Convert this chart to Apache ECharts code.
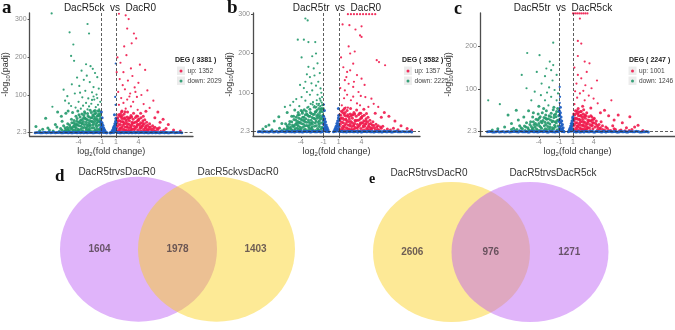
<!DOCTYPE html>
<html><head><meta charset="utf-8">
<script src="https://cdn.jsdelivr.net/npm/echarts@6/dist/echarts.min.js"></script>
<style>html,body{margin:0;padding:0;background:#fff}#c{width:675px;height:330px}</style>
</head><body><div id="c"></div>
<script>
// ---------------- DATA ----------------
const panelLetters = ['a', 'b', 'c', 'd', 'e'];
const comparisons = ['DacR5ck  vs  DacR0', 'DacR5tr  vs  DacR0', 'DacR5tr  vs  DacR5ck'];
const degTotals = [3381, 3582, 2247];
const upCounts = [1352, 1357, 1001];
const downCounts = [2029, 2225, 1246];
const xTicks = [-4, -1, 1, 4];
const yTicksAB = [2.3, 100, 200, 300];
const yTicksC = [2.3, 100, 200];
const fcCut = [-1, 1];
const padjCut = 2.3;

// panel a : DacR5ck vs DacR0  [log2FC, -log10 padj]
const aDown = [[-7.6,315],[-2.8,287],[-5.2,265],[-2.6,262],[-4.7,233],[-5.0,203],[-4.6,190],[-3.0,181],[-2.4,176],[-2.1,169],[-3.6,164],[-1.8,158],[-2.9,151],[-4.2,146],[-3.3,140],[-1.5,147],[-2.5,134],[-4.9,128],[-3.9,124],[-2.0,121],[-1.3,117],[-6.0,114],[-3.1,111],[-2.2,107],[-4.5,104],[-1.6,101],[-5.5,97],[-3.5,94],[-2.7,91],[-1.9,88],[-7.5,69],[-8.4,39],[-9.7,17],[-7.1,22],[-6.2,31],[-5.7,52],[-5.3,78],[-6.4,12],[-8.8,10],[-7.9,8],[-6.8,55],[-5.8,85],[-4.0,82],[-3.0,79],[-2.3,77],[-1.4,74],[-5.0,71],[-4.4,67],[-3.7,64],[-2.8,62],[-1.8,59],[-1.2,57],[-6.3,44],[-5.4,58],[-4.8,54],[-3.4,72],[-2.6,70],[-1.7,68],[-4.1,58],[-3.2,56],[-2.2,87],[-1.1,82],[-9.2,6],[-8.1,13],[-7.4,5],[-6.9,16],[-3.8,106],[-2.0,96],[-1.5,92],
[-5.9,4],[-5.7,9],[-5.5,15],[-5.3,6],[-5.2,21],[-5.0,11],[-4.9,27],[-4.8,4],[-4.7,17],[-4.6,33],[-4.5,8],[-4.4,24],[-4.3,13],[-4.2,38],[-4.1,5],[-4.0,29],[-3.9,19],[-3.8,42],[-3.7,10],[-3.6,34],[-3.5,24],[-3.4,6],[-3.3,46],[-3.2,15],[-3.1,38],[-3.0,28],[-2.9,9],[-2.8,51],[-2.7,20],[-2.6,42],[-2.5,33],[-2.4,5],[-2.3,54],[-2.2,13],[-2.1,47],[-2.0,25],[-1.9,36],[-1.8,8],[-1.7,52],[-1.6,18],[-1.5,44],[-1.4,30],[-1.3,50],[-1.2,11],[-1.1,38],[-1.05,22],[-6.2,7],[-6.6,4],[-5.6,3],[-5.1,16],[-4.95,36],[-4.35,44],[-4.05,10],[-3.95,48],[-3.45,14],[-3.15,52],[-2.95,36],[-2.65,27],[-2.45,60],[-2.15,30],[-1.95,14],[-1.75,40],[-1.55,26],[-1.35,7],[-1.25,62],[-1.15,45],[-3.85,27],[-4.55,20],[-5.35,11],[-2.85,16],[-2.35,40],[-1.85,50],[-1.45,58],[-3.55,50],[-4.15,22],[-3.05,4],[-2.05,4],[-1.65,5],[-4.75,8],[-5.45,24],[-5.8,14],[-6.0,19],[-4.25,31],[-3.65,18],[-2.75,45],[-2.55,12],[-1.95,57],[-1.6,34],[-1.1,28],[-3.25,22],
[-5.75,6],[-5.45,8],[-5.15,4],[-4.85,14],[-4.65,26],[-4.45,16],[-4.2,20],[-3.95,7],[-3.75,33],[-3.55,4],[-3.35,30],[-3.2,40],[-2.95,22],[-2.8,34],[-2.6,8],[-2.45,22],[-2.3,30],[-2.2,40],[-2.0,44],[-1.85,30],[-1.7,22],[-1.55,12],[-1.4,46],[-1.3,20],[-1.2,32],[-1.1,9],[-1.05,50],[-3.0,12],[-3.6,26],[-4.3,6],[-2.5,18],[-1.75,3],[-2.7,6],[-3.4,38],[-2.1,20],[-1.5,36]];
const aUp = [[1.4,314],[2.3,310],[2.7,300],[2.5,275],[3.4,262],[3.7,249],[1.2,199],[2.4,205],[4.9,166],[3.0,170],[1.6,185],[2.0,160],[3.2,150],[1.5,142],[2.6,138],[4.0,132],[1.9,126],[3.5,120],[2.2,115],[5.2,112],[1.3,108],[2.9,104],[4.4,100],[3.8,95],[1.7,92],[2.5,88],[6.0,85],[3.3,82],[2.0,79],[4.7,76],[1.4,74],[3.0,70],[5.5,66],[2.3,64],[3.9,61],[1.8,58],[6.6,55],[4.3,52],[7.3,36],[8.0,22],[8.7,8],[9.6,5],[7.7,12],[6.9,28],[6.2,40],[5.0,57],[2.8,96],[3.6,108],[1.1,160],[2.1,228],[3.1,236],[4.2,180],
[1.1,5],[1.2,18],[1.3,33],[1.4,9],[1.5,45],[1.6,22],[1.7,12],[1.8,38],[1.9,4],[2.0,28],[2.1,50],[2.2,16],[2.3,35],[2.4,7],[2.5,42],[2.6,24],[2.7,13],[2.8,32],[2.9,5],[3.0,46],[3.1,20],[3.2,10],[3.3,36],[3.4,27],[3.5,4],[3.6,41],[3.7,15],[3.8,30],[3.9,8],[4.0,22],[4.1,37],[4.2,12],[4.3,27],[4.4,5],[4.5,18],[4.6,32],[4.7,9],[4.8,24],[4.9,14],[5.0,4],[5.2,20],[5.4,10],[5.6,16],[5.8,6],[6.0,12],[6.3,5],[6.6,9],[7.0,4],[1.15,26],[1.35,48],[1.55,14],[1.75,55],[1.95,20],[2.15,8],[2.35,25],[2.55,55],[2.75,40],[2.95,17],[3.15,28],[3.35,52],[3.55,12],[3.75,45],[3.95,35],[4.15,4],[4.35,40],[4.55,26],[4.85,35],[5.1,28],[5.3,6],[5.5,24],[5.9,19],[6.2,15],[1.25,40],[1.45,3],[1.65,30],[1.85,46],[2.05,38],[2.45,15],[2.65,4],[3.05,8],[3.45,18],[3.85,22],[4.25,16],[4.65,44],[5.05,12],[6.8,14],[7.4,7],
[1.05,14],[1.2,30],[1.3,4],[1.4,22],[1.5,32],[1.6,6],[1.7,42],[1.8,16],[1.9,30],[2.0,10],[2.1,24],[2.2,40],[2.3,5],[2.4,30],[2.5,18],[2.6,36],[2.7,7],[2.8,22],[2.9,40],[3.0,14],[3.2,25],[3.4,10],[3.6,28],[3.8,18],[4.0,33],[4.2,22],[4.4,14],[4.6,20],[4.8,6],[5.0,18],[5.2,8],[5.4,16],[5.7,10],[6.1,6],[6.5,12],[1.1,40],[1.6,50],[2.2,56],[3.1,42],[3.9,44]];
const aNs = [[-9.8,0.8],[-9.3,1.5],[-8.9,0.5],[-8.5,1.8],[-8.1,1.0],[-7.7,0.4],[-7.3,1.6],[-6.9,0.9],[-6.5,2.0],[-6.1,0.6],[-5.8,1.3],[-5.4,0.3],[-5.1,1.9],[-4.8,0.8],[-4.5,1.4],[-4.2,0.5],[-3.9,2.1],[-3.6,1.0],[-3.3,0.4],[-3.0,1.7],[-2.7,0.9],[-2.4,1.5],[-2.1,0.3],[-1.8,1.2],[-1.5,2.0],[-1.2,0.7],[1.2,1.1],[1.5,0.4],[1.8,1.9],[2.1,0.8],[2.4,1.4],[2.7,0.3],[3.0,2.0],[3.3,1.0],[3.6,0.5],[3.9,1.6],[4.2,0.9],[4.5,2.1],[4.8,0.6],[5.1,1.3],[5.4,0.4],[5.7,1.8],[6.0,1.0],[6.3,0.5],[6.6,1.5],[6.9,0.8],[7.2,1.9],[7.5,0.4],[7.8,1.2],[8.1,0.7],[8.5,1.6],[8.9,0.5],[9.3,1.1],[9.8,0.6],
[-9.55,1.2],[-9.1,0.3],[-8.7,1.0],[-8.3,0.4],[-7.9,1.7],[-7.5,1.0],[-7.1,0.3],[-6.7,1.4],[-6.3,0.8],[-5.95,2.0],[-5.6,0.9],[-5.25,1.1],[-4.95,0.4],[-4.65,1.9],[-4.35,1.0],[-4.05,1.5],[-3.75,0.6],[-3.45,1.8],[-3.15,1.2],[-2.85,0.4],[-2.55,2.0],[-2.25,1.0],[-1.95,0.5],[-1.65,1.6],[-1.35,1.0],[-1.1,2.0],[1.1,1.8],[1.35,1.2],[1.65,0.6],[1.95,1.5],[2.25,2.0],[2.55,1.1],[2.85,1.5],[3.15,0.5],[3.45,1.8],[3.75,1.2],[4.05,0.3],[4.35,1.5],[4.65,1.2],[4.95,2.0],[5.25,0.8],[5.55,1.5],[5.85,0.5],[6.15,1.9],[6.45,1.0],[6.75,0.3],[7.05,1.3],[7.35,1.0],[7.65,2.0],[7.95,0.5],[8.3,1.0],[8.7,1.9],[9.1,0.9],[9.55,1.4],
[-1.0,30],[-0.95,24],[-0.9,18],[-0.85,26],[-0.8,12],[-0.75,20],[-0.7,8],[-0.65,14],[-0.6,4],[-0.55,9],[-0.5,2],[-0.45,5],[-0.4,1],[-0.3,0.5],[-0.2,0.3],[-1.0,15],[-0.95,6],[-0.9,10],[-0.8,3],[-0.7,1],[0.4,1],[0.45,4],[0.5,2],[0.55,8],[0.6,5],[0.65,13],[0.7,9],[0.75,18],[0.8,14],[0.85,24],[0.9,20],[0.95,31],[1.0,26],[0.98,38],[0.9,6],[0.8,3],[0.7,1],[0.2,0.3],[0.3,0.5],[1.0,12],[0.9,95],[0.95,74],[-0.95,55],[0.8,48],[-0.85,40],[0.97,183]];

// panel b : DacR5tr vs DacR0
const bDown = [[-3.4,289],[-3.1,284],[-3.6,235],[-4.4,235],[-2.1,229],[-3.0,229],[-3.9,190],[-2.5,193],[-2.0,200],[-2.3,162],[-3.0,166],[-3.2,147],[-2.2,144],[-3.4,128],[-2.6,124],[-1.7,128],[-1.4,111],[-2.5,106],[-3.2,102],[-3.9,89],[-5.0,77],[-6.1,64],[-1.2,89],[-1.9,81],[-6.9,39],[-8.2,18],[-1.8,175],[-2.8,140],[-1.5,150],[-4.1,120],[-2.0,118],[-3.6,112],[-1.3,100],[-2.8,95],[-4.6,84],[-3.4,80],[-2.4,76],[-1.6,72],[-5.4,68],[-4.2,66],[-3.0,64],[-2.1,62],[-1.3,60],[-5.8,50],[-4.8,56],[-3.8,52],[-7.5,28],[-9.0,8],[-8.6,14],[-7.8,6],[-6.5,22],[-6.8,10],[-1.1,70],[-1.5,85],[-2.7,72],[-1.8,95],[-4.4,43],[-5.2,40],
[-5.9,5],[-5.7,12],[-5.5,20],[-5.3,7],[-5.2,26],[-5.0,14],[-4.9,32],[-4.8,5],[-4.7,20],[-4.6,38],[-4.5,10],[-4.4,27],[-4.3,15],[-4.2,44],[-4.1,6],[-4.0,33],[-3.9,22],[-3.8,48],[-3.7,12],[-3.6,38],[-3.5,27],[-3.4,7],[-3.3,53],[-3.2,17],[-3.1,43],[-3.0,31],[-2.9,10],[-2.8,58],[-2.7,23],[-2.6,47],[-2.5,37],[-2.4,6],[-2.3,63],[-2.2,15],[-2.1,52],[-2.0,28],[-1.9,41],[-1.8,9],[-1.7,68],[-1.6,20],[-1.5,50],[-1.4,34],[-1.3,58],[-1.2,12],[-1.1,43],[-1.05,25],[-6.2,8],[-6.5,4],[-5.6,3],[-5.1,18],[-4.95,40],[-4.35,50],[-4.05,12],[-3.95,55],[-3.45,16],[-3.15,62],[-2.95,40],[-2.65,30],[-2.45,70],[-2.15,34],[-1.95,16],[-1.75,45],[-1.55,29],[-1.35,8],[-1.25,75],[-1.15,52],[-3.85,30],[-4.55,23],[-5.35,13],[-2.85,18],[-2.35,45],[-1.85,56],[-1.45,66],[-3.55,57],[-4.15,25],[-3.05,4],[-2.05,4],[-1.65,5],[-4.75,9],[-5.45,27],[-5.8,16],[-6.0,21],[-4.25,35],[-3.65,20],[-2.75,50],[-2.55,13],[-1.95,64],[-1.6,38],[-1.1,32],[-3.25,25],[-1.4,80],[-1.9,72],[-2.2,66],
[-5.75,8],[-5.45,10],[-5.15,5],[-4.85,16],[-4.65,30],[-4.45,18],[-4.2,23],[-3.95,8],[-3.75,38],[-3.55,5],[-3.35,34],[-3.2,46],[-2.95,25],[-2.8,40],[-2.6,9],[-2.45,25],[-2.3,35],[-2.2,46],[-2.0,52],[-1.85,35],[-1.7,25],[-1.55,14],[-1.4,54],[-1.3,23],[-1.2,38],[-1.1,10],[-1.05,60],[-3.0,14],[-3.6,30],[-4.3,7],[-2.5,20],[-1.75,3],[-2.7,7],[-3.4,44],[-2.1,23],[-1.5,42],[-1.2,68],[-1.6,60]];
const bUp = [[2.2,300],[2.6,300],[3.0,300],[3.4,300],[3.8,300],[4.2,300],[4.6,300],[5.0,300],[5.4,300],[5.8,300],
[1.5,274],[2.4,272],[3.2,261],[4.0,269],[3.8,246],[4.0,242],[2.3,218],[2.5,200],[2.9,174],[2.5,157],[2.1,153],[3.4,145],[1.8,132],[4.0,136],[6.0,183],[7.1,170],[6.3,178],[2.3,123],[2.9,115],[1.8,106],[3.6,102],[4.5,89],[2.6,81],[3.4,73],[1.4,68],[4.9,64],[6.2,64],[1.3,190],[3.1,205],[1.6,165],[2.0,140],[3.0,128],[4.4,120],[1.2,112],[2.1,95],[3.9,92],[5.3,85],[1.7,86],[2.9,90],[5.6,72],[3.8,68],[7.0,50],[7.6,40],[8.4,28],[9.2,16],[10.0,9],[10.6,5],[8.8,6],[6.6,38],[5.8,48],[4.3,58],[1.9,62],
[1.1,6],[1.2,20],[1.3,36],[1.4,10],[1.5,50],[1.6,24],[1.7,13],[1.8,42],[1.9,4],[2.0,31],[2.1,55],[2.2,18],[2.3,39],[2.4,8],[2.5,46],[2.6,27],[2.7,14],[2.8,35],[2.9,5],[3.0,50],[3.1,22],[3.2,11],[3.3,40],[3.4,30],[3.5,4],[3.6,44],[3.7,16],[3.8,33],[3.9,9],[4.0,24],[4.1,40],[4.2,13],[4.3,29],[4.4,5],[4.5,20],[4.6,34],[4.7,10],[4.8,26],[4.9,15],[5.0,4],[5.2,22],[5.4,11],[5.6,17],[5.8,6],[6.0,13],[6.3,5],[6.6,10],[7.0,4],[1.15,28],[1.35,53],[1.55,15],[1.75,60],[1.95,22],[2.15,9],[2.35,27],[2.55,60],[2.75,44],[2.95,18],[3.15,30],[3.35,56],[3.55,13],[3.75,48],[3.95,37],[4.15,4],[4.35,43],[4.55,28],[4.85,38],[5.1,30],[5.3,7],[5.5,26],[5.9,20],[6.2,16],[1.25,43],[1.45,3],[1.65,32],[1.85,50],[2.05,41],[2.45,16],[2.65,4],[3.05,8],[3.45,19],[3.85,23],[4.25,17],[4.65,47],[5.05,13],[6.8,15],[7.4,8],[7.8,5],[8.2,10],
[1.05,15],[1.2,33],[1.3,4],[1.4,25],[1.5,36],[1.6,7],[1.7,46],[1.8,18],[1.9,33],[2.0,11],[2.1,27],[2.2,44],[2.3,5],[2.4,33],[2.5,20],[2.6,40],[2.7,7],[2.8,24],[2.9,44],[3.0,15],[3.2,28],[3.4,11],[3.6,30],[3.8,20],[4.0,36],[4.2,24],[4.4,15],[4.6,22],[4.8,7],[5.0,20],[5.2,9],[5.4,18],[5.7,11],[6.1,7],[6.5,13],[1.1,44],[1.6,56],[2.2,62],[3.1,46],[3.9,48]];
const bNs = [[-9.6,1.0],[-9.2,0.5],[-8.8,1.7],[-8.4,0.8],[-8.0,1.3],[-7.6,0.4],[-7.2,1.9],[-6.8,0.7],[-6.4,1.5],[-6.0,0.3],[-5.7,1.8],[-5.3,0.9],[-5.0,1.4],[-4.7,0.5],[-4.4,2.0],[-4.1,1.1],[-3.8,0.4],[-3.5,1.6],[-3.2,0.8],[-2.9,2.1],[-2.6,0.5],[-2.3,1.3],[-2.0,0.7],[-1.7,1.9],[-1.4,0.4],[-1.1,1.5],[1.1,0.6],[1.4,1.8],[1.7,0.9],[2.0,0.4],[2.3,1.5],[2.6,2.0],[2.9,0.7],[3.2,1.2],[3.5,0.4],[3.8,1.9],[4.1,0.8],[4.4,1.4],[4.7,0.5],[5.0,2.0],[5.3,1.0],[5.6,0.4],[5.9,1.6],[6.2,0.9],[6.5,1.3],[6.8,0.5],[7.1,1.8],[7.4,0.8],[7.7,1.2],[8.0,0.4],[8.4,1.5],[8.8,0.7],[9.2,1.1],[9.7,0.5],[10.2,0.9],[10.6,0.4],
[-9.4,1.3],[-9.0,0.3],[-8.6,1.1],[-8.2,0.4],[-7.8,1.8],[-7.4,1.0],[-7.0,0.3],[-6.6,1.3],[-6.2,0.8],[-5.85,2.0],[-5.5,0.9],[-5.15,1.1],[-4.85,0.4],[-4.55,1.9],[-4.25,1.0],[-3.95,1.5],[-3.65,0.6],[-3.35,1.8],[-3.05,1.2],[-2.75,0.4],[-2.45,2.0],[-2.15,1.0],[-1.85,0.5],[-1.55,1.6],[-1.25,1.0],[1.25,1.2],[1.55,0.5],[1.85,1.5],[2.15,2.0],[2.45,0.9],[2.75,1.4],[3.05,0.5],[3.35,1.8],[3.65,1.2],[3.95,0.3],[4.25,1.5],[4.55,1.2],[4.85,2.0],[5.15,0.8],[5.45,1.5],[5.75,0.5],[6.05,1.9],[6.35,1.0],[6.65,0.3],[6.95,1.3],[7.25,1.0],[7.55,2.0],[7.85,0.5],[8.2,1.0],[8.6,1.9],[9.0,0.9],[9.45,1.4],[9.95,0.6],[10.4,1.2],
[-1.0,40],[-0.95,30],[-0.9,22],[-0.85,34],[-0.8,15],[-0.75,26],[-0.7,10],[-0.65,18],[-0.6,5],[-0.55,12],[-0.5,3],[-0.45,7],[-0.4,1.5],[-0.3,0.6],[-1.0,20],[-0.95,10],[-0.9,5],[-0.8,4],[-0.7,1.5],[0.3,0.6],[0.4,1.5],[0.45,5],[0.5,3],[0.55,10],[0.6,6],[0.65,15],[0.7,10],[0.75,22],[0.8,16],[0.85,28],[0.9,22],[0.95,36],[1.0,30],[0.98,42],[0.9,8],[0.8,4],[0.7,2],[1.0,14],[-0.9,55],[0.95,60],[-0.95,70]];

// panel c : DacR5tr vs DacR5ck
const cDown = [[-1.9,208],[-5.7,184],[-3.9,179],[-2.4,164],[-1.9,156],[-2.9,148],[-2.2,144],[-6.5,133],[-3.1,130],[-1.4,133],[-5.8,102],[-3.6,113],[-2.5,104],[-4.6,94],[-11.4,74],[-9.7,65],[-5.1,74],[-3.1,74],[-2.2,82],[-1.4,74],[-7.3,51],[-8.5,40],[-2.8,92],[-1.7,98],[-4.0,60],[-3.3,55],[-2.6,62],[-1.8,58],[-1.2,90],[-5.5,50],[-4.8,45],[-6.2,35],[-7.0,28],[-8.0,20],[-9.0,12],[-10.0,8],[-10.8,5],[-6.8,15],[-7.7,9],[-3.7,86],[-2.0,120],[-4.3,140],
[-6.0,4],[-5.6,10],[-5.3,18],[-5.0,6],[-4.8,24],[-4.6,12],[-4.4,30],[-4.2,5],[-4.0,20],[-3.8,36],[-3.6,9],[-3.4,27],[-3.2,15],[-3.0,40],[-2.8,6],[-2.6,31],[-2.4,19],[-2.2,44],[-2.0,10],[-1.8,34],[-1.6,24],[-1.4,48],[-1.2,14],[-1.1,38],[-5.8,22],[-5.4,3],[-5.1,13],[-4.9,35],[-4.5,20],[-4.1,42],[-3.9,14],[-3.5,45],[-3.3,4],[-3.1,23],[-2.9,50],[-2.7,13],[-2.5,38],[-2.3,28],[-2.1,5],[-1.9,52],[-1.7,16],[-1.5,36],[-1.3,27],[-1.05,7],[-6.4,8],[-6.8,3],[-7.2,6],[-4.7,4],[-3.7,25],[-2.45,8],[-1.95,26],[-1.55,42],[-1.25,55],[-3.0,32],[-4.3,16],
[-5.9,12],[-5.5,6],[-5.2,24],[-4.9,9],[-4.7,18],[-4.35,8],[-4.15,28],[-3.95,32],[-3.75,12],[-3.55,22],[-3.25,34],[-3.05,8],[-2.85,30],[-2.65,22],[-2.35,12],[-2.25,36],[-2.05,24],[-1.85,8],[-1.75,40],[-1.6,12],[-1.45,22],[-1.35,5],[-1.15,28],[-1.08,48],[-6.1,14],[-6.6,10],[-7.5,4],[-8.0,6],[-2.95,18],[-3.85,4]];
const cUp = [[1.0,276],[1.3,276],[1.6,276],[1.9,276],[2.2,276],[2.5,276],[2.8,276],[3.1,276],
[2.0,264],[1.7,212],[2.2,206],[1.7,177],[2.7,164],[3.4,160],[1.7,133],[2.2,125],[1.5,113],[2.8,109],[3.7,102],[2.0,90],[2.7,74],[4.6,67],[6.6,74],[5.6,51],[7.6,40],[9.3,36],[10.5,16],[10.0,12],[1.2,150],[3.0,140],[1.3,95],[3.3,85],[1.6,80],[4.0,78],[2.4,60],[3.6,56],[1.2,65],[5.0,45],[6.2,38],[7.0,28],[8.2,22],[8.8,10],[9.6,6],[11.2,4],[6.8,15],[4.5,120],[2.5,96],
[1.1,5],[1.2,18],[1.3,32],[1.4,9],[1.5,44],[1.6,22],[1.7,12],[1.8,38],[1.9,4],[2.0,28],[2.1,48],[2.2,16],[2.3,35],[2.4,7],[2.5,42],[2.6,24],[2.7,13],[2.8,32],[2.9,5],[3.0,45],[3.1,20],[3.2,10],[3.3,36],[3.4,27],[3.5,4],[3.6,38],[3.7,15],[3.8,28],[3.9,8],[4.0,22],[4.2,12],[4.4,26],[4.6,6],[4.8,18],[5.0,10],[5.3,15],[5.6,5],[6.0,9],[6.5,4],[1.15,26],[1.35,50],[1.55,14],[1.75,55],[1.95,20],[2.15,8],[2.35,25],[2.55,52],[2.75,40],[2.95,17],[3.15,28],[3.45,18],[3.75,35],[4.1,32],[4.5,16],[5.1,24],[1.25,40],[1.65,30],[1.85,46],[2.05,38],[2.45,15],[2.65,4],[3.05,8],[3.85,22],[7.2,6],[7.8,3],
[1.05,14],[1.2,30],[1.3,4],[1.4,22],[1.5,32],[1.6,6],[1.7,42],[1.8,16],[1.9,30],[2.0,10],[2.1,24],[2.2,40],[2.3,5],[2.4,30],[2.5,18],[2.6,36],[2.7,7],[2.8,22],[2.9,38],[3.0,12],[3.2,24],[3.4,10],[3.6,26],[3.8,16],[4.0,30],[4.3,20],[4.6,12],[4.9,8],[5.3,6],[5.8,12],[1.1,42],[1.6,50],[2.2,48],[6.2,4],[7.0,8],[8.0,5],[8.6,3],[9.2,4]];
const cNs = [[-11.5,0.8],[-11.0,1.5],[-10.5,0.5],[-10.0,1.8],[-9.5,0.9],[-9.0,0.4],[-8.5,1.6],[-8.0,0.8],[-7.5,1.3],[-7.0,0.4],[-6.6,1.9],[-6.2,0.7],[-5.8,1.4],[-5.4,0.5],[-5.0,2.0],[-4.6,1.0],[-4.2,0.4],[-3.8,1.7],[-3.4,0.8],[-3.0,2.1],[-2.6,0.5],[-2.2,1.3],[-1.8,0.7],[-1.4,1.9],[-1.1,0.6],[1.1,1.2],[1.4,0.5],[1.8,1.8],[2.2,0.9],[2.6,0.4],[3.0,1.6],[3.4,0.8],[3.8,2.0],[4.2,0.5],[4.6,1.3],[5.0,0.7],[5.4,1.9],[5.8,0.4],[6.2,1.2],[6.6,0.8],[7.0,1.7],[7.4,0.5],[7.8,1.1],[8.2,0.6],[8.6,1.5],[9.0,0.4],[9.5,1.2],[10.0,0.6],[10.5,1.4],[11.0,0.5],[11.5,1.0],[12.0,0.4],
[-11.25,1.2],[-10.75,0.3],[-10.25,1.1],[-9.75,0.4],[-9.25,1.7],[-8.75,1.0],[-8.25,0.3],[-7.75,1.3],[-7.25,0.8],[-6.8,2.0],[-6.4,0.9],[-6.0,1.1],[-5.6,0.4],[-5.2,1.9],[-4.8,1.0],[-4.4,1.5],[-4.0,0.6],[-3.6,1.8],[-3.2,1.2],[-2.8,0.4],[-2.4,2.0],[-2.0,1.0],[-1.6,0.5],[-1.25,1.6],[1.25,1.6],[1.6,1.0],[2.0,0.5],[2.4,1.5],[2.8,2.0],[3.2,0.9],[3.6,1.4],[4.0,0.5],[4.4,1.8],[4.8,1.2],[5.2,0.3],[5.6,1.5],[6.0,1.2],[6.4,2.0],[6.8,0.8],[7.2,1.5],[7.6,0.5],[8.0,1.9],[8.4,1.0],[8.8,0.3],[9.25,1.3],[9.75,1.0],[10.25,2.0],[10.75,0.5],[11.25,1.0],[11.75,1.2],
[-1.0,50],[-0.95,40],[-0.9,30],[-0.85,45],[-0.8,22],[-0.75,35],[-0.7,15],[-0.65,26],[-0.6,8],[-0.55,18],[-0.5,4],[-0.45,10],[-0.4,2],[-0.3,0.8],[-1.0,25],[-0.95,12],[-0.9,6],[-0.8,8],[-0.7,3],[-0.6,1.5],[-0.85,58],[0.3,0.8],[0.4,2],[0.45,5],[0.5,3],[0.55,9],[0.6,6],[0.65,14],[0.7,10],[0.75,20],[0.8,15],[0.85,26],[0.9,20],[0.95,33],[1.0,28],[0.98,36],[0.9,8],[0.8,4],[0.7,2],[-0.95,105],[-0.9,82],[-0.95,68]];

// Venn diagrams
const vennDSets = ['DacR5trvsDacR0', 'DacR5ckvsDacR0'];
const vennDCounts = [1604, 1978, 1403];   // only-left, both, only-right
const vennESets = ['DacR5trvsDacR0', 'DacR5trvsDacR5ck'];
const vennECounts = [2606, 976, 1271];

// ---------------- LAYOUT / STYLE ----------------
const SANS = 'Liberation Sans, Arial, sans-serif';
const SERIF = 'Liberation Serif, DejaVu Serif, serif';
const COL = { up: '#f01a4c', down: '#22996b', ns: '#1f5fc2' };
const AXC = '#4d4d4d';
// sparse high points are drawn a little smaller than the dense cloud near the base
const pointSize = (v) => (v[1] > 60 ? 2.2 : 3);

const volcano = [
  { grid: { left: 27, top: 13, width: 166, height: 123 }, xr: [-10.55, 11.3], yr: [-8, 316], yTicks: yTicksAB, nameGap: 16, titleX: 110, legX: 179.5, degX: 175, data: [aDown, aUp, aNs] },
  { grid: { left: 253, top: 13, width: 167, height: 123 }, xr: [-10.3, 11.7], yr: [-10, 303], yTicks: yTicksAB, nameGap: 18, titleX: 337, legX: 406.5, degX: 402, data: [bDown, bUp, bNs] },
  { grid: { left: 480, top: 13, width: 195, height: 123 }, xr: [-12.6, 15.9], yr: [-9, 277], yTicks: yTicksC, nameGap: 26, titleX: 563, legX: 631, degX: 629, data: [cDown, cUp, cNs] }
];
const vennGrids = [
  { left: 60.5, top: 168.5, width: 234, height: 174 },
  { left: 373, top: 174, width: 235.5, height: 168 }
];

const grid = [], xAxis = [], yAxis = [], series = [], title = [], legend = [], graphic = [];
const richSub = { sub: { fontSize: 6, lineHeight: 6, verticalAlign: 'bottom', fontFamily: SANS, color: '#333' } };

volcano.forEach((p, i) => {
  grid.push(p.grid);
  xAxis.push({
    type: 'value', gridIndex: i, min: p.xr[0], max: p.xr[1],
    axisLine: { onZero: false, lineStyle: { color: AXC, width: 1.3 } },
    axisTick: { length: 2, customValues: xTicks, lineStyle: { color: AXC } },
    axisLabel: { customValues: xTicks, fontSize: 7, color: '#8c8c8c', margin: 3, fontFamily: SANS },
    splitLine: { show: false },
    name: 'log{sub|2}(fold change)', nameLocation: 'middle', nameGap: 11,
    nameTextStyle: { fontSize: 9, color: '#333', fontFamily: SANS, lineHeight: 10, rich: richSub }
  });
  yAxis.push({
    type: 'value', gridIndex: i, min: p.yr[0], max: p.yr[1],
    axisLine: { onZero: false, lineStyle: { color: AXC, width: 1.3 } },
    axisTick: { length: 2, customValues: p.yTicks, lineStyle: { color: AXC } },
    axisLabel: { customValues: p.yTicks, fontSize: 7, color: '#8c8c8c', margin: 3, fontFamily: SANS },
    splitLine: { show: false },
    name: '-log{sub|10}(padj)', nameLocation: 'middle', nameGap: p.nameGap,
    nameTextStyle: { fontSize: 9, color: '#333', fontFamily: SANS, lineHeight: 10, rich: richSub }
  });
  const upName = 'up: ' + upCounts[i], downName = 'down: ' + downCounts[i];
  const common = { type: 'scatter', xAxisIndex: i, yAxisIndex: i, symbolSize: pointSize, clip: false, silent: true, animation: false };
  series.push(Object.assign({}, common, { name: downName, data: p.data[0], itemStyle: { color: COL.down, opacity: 0.9 } }));
  series.push(Object.assign({}, common, { name: upName, data: p.data[1], itemStyle: { color: COL.up, opacity: 0.9 } }));
  series.push(Object.assign({}, common, {
    name: 'ns' + i, data: p.data[2], itemStyle: { color: COL.ns, opacity: 0.95 },
    markLine: {
      silent: true, symbol: 'none', label: { show: false }, animation: false,
      lineStyle: { color: '#333', width: 0.8, type: [3, 2] },
      data: [{ xAxis: fcCut[0] }, { xAxis: fcCut[1] }, { yAxis: padjCut }]
    }
  }));
  title.push({ text: comparisons[i], left: p.titleX, top: 3, textAlign: 'center', padding: 0,
    textStyle: { fontSize: 10, fontWeight: 'normal', color: '#222', fontFamily: SANS } });
  title.push({ text: 'DEG ( ' + degTotals[i] + ' )', left: p.degX, top: 57, padding: 0,
    textStyle: { fontSize: 7, fontWeight: 'bold', color: '#222', fontFamily: SANS } });
  legend.push({ data: [upName, downName], orient: 'vertical', left: p.legX, top: 67, padding: 0,
    itemWidth: 3, itemHeight: 3, itemGap: 2, icon: 'circle', selectedMode: false,
    textStyle: { fontSize: 6.6, color: '#444', fontFamily: SANS, lineHeight: 8, padding: [0, 0, 0, 0] } });
  graphic.push({ type: 'rect', shape: { x: p.legX - 2.5, y: 66.5, width: 8, height: 8.5 }, style: { fill: '#ececec' }, z: -1 });
  graphic.push({ type: 'rect', shape: { x: p.legX - 2.5, y: 76.5, width: 8, height: 8.5 }, style: { fill: '#ececec' }, z: -1 });
});

// panel letters
const letterPos = [[2, -1, 19], [227, -1, 19], [454, 0, 18], [55, 168, 17], [369, 172, 14]];
letterPos.forEach((lp, k) => {
  title.push({ text: panelLetters[k], left: lp[0], top: lp[1], padding: 0,
    textStyle: { fontSize: lp[2], fontWeight: 'bold', color: '#111', fontFamily: SERIF } });
});

// Venn diagrams
const vennCfg = [
  { sets: vennDSets, counts: vennDCounts, colors: ['#e0b4fa', '#fbcf10'], opac: [1, 0.44], size: [157, 145], dist: 0, offs: [-21.5, 21.5] },
  { sets: vennESets, counts: vennECounts, colors: ['#fde996', '#ba58f4'], opac: [1, 0.45], size: [157, 140], dist: 4, offs: [-22.5, 23] }
];
vennCfg.forEach((v, j) => {
  const gi = 3 + j;
  grid.push(vennGrids[j]);
  xAxis.push({ type: 'value', gridIndex: gi, min: -1, max: 2, show: false });
  yAxis.push({ type: 'value', gridIndex: gi, min: -1.2, max: 1.2, show: false });
  v.sets.forEach((s, k) => {
    series.push({
      type: 'scatter', name: s, xAxisIndex: gi, yAxisIndex: gi, silent: true, animation: false, clip: false,
      symbol: 'circle', symbolSize: v.size, z: 2 + k,
      data: [[k, 0]],
      itemStyle: { color: v.colors[k], opacity: v.opac[k], borderWidth: 0 },
      label: { show: true, position: 'top', distance: v.dist, offset: [v.offs[k], 0], formatter: s,
        fontSize: 10, color: '#333', fontFamily: SANS, opacity: 1 }
    });
  });
  series.push({
    type: 'scatter', xAxisIndex: gi, yAxisIndex: gi, silent: true, animation: false, z: 10,
    symbolSize: 1, itemStyle: { color: 'rgba(0,0,0,0)' },
    data: v.counts.map((c, k) => [k - 0.5, 0, c]),
    label: { show: true, position: 'inside', formatter: (p) => String(p.value[2]),
      fontSize: 10, fontWeight: 'bold', color: '#4a3b44', fontFamily: SANS }
  });
});

const chart = echarts.init(document.getElementById('c'), null, { renderer: 'canvas' });
chart.setOption({ animation: false, backgroundColor: '#fff', title, legend, grid, xAxis, yAxis, series, graphic });
</script></body></html>
